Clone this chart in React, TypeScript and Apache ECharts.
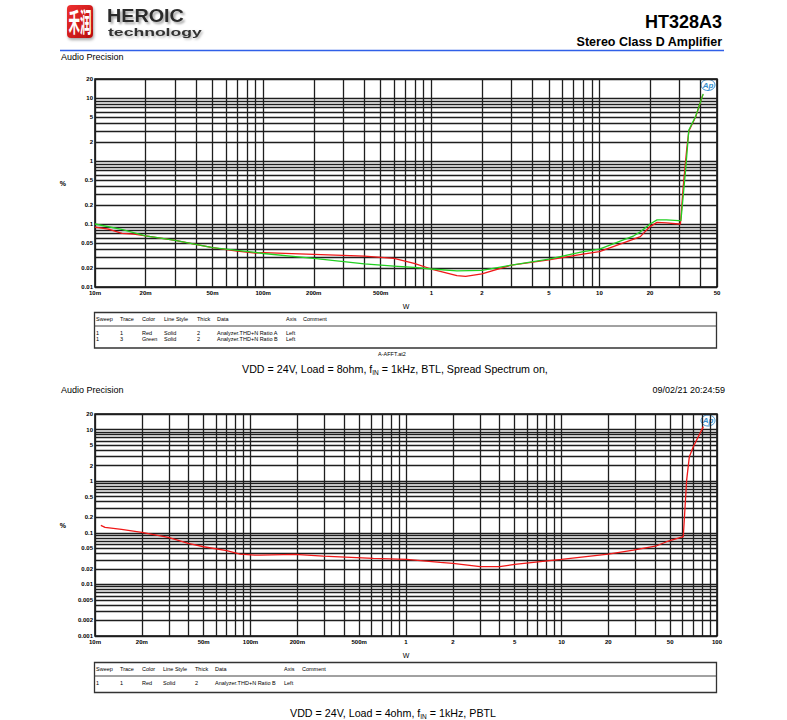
import React, { useEffect, useRef } from 'react';
import * as echarts from 'echarts';

// ---------- data (W, %) ----------
const topRedX = [0.01, 0.012, 0.0145, 0.017, 0.02, 0.03, 0.039, 0.05, 0.07, 0.09, 0.1, 0.2, 0.4, 0.6, 0.79, 1.0, 1.42, 1.6, 2.0, 3.0, 5.0, 8.0, 10, 16, 17.5, 20, 22, 25, 29.6, 30.3, 31.5, 33, 34, 37.3, 41.2];
const topRedY = [0.0895, 0.083, 0.071, 0.069, 0.065, 0.055, 0.048, 0.042, 0.037, 0.0345, 0.035, 0.033, 0.031, 0.0285, 0.0237, 0.0193, 0.0151, 0.0147, 0.0161, 0.0223, 0.027, 0.0333, 0.0363, 0.0577, 0.063, 0.091, 0.106, 0.104, 0.1, 0.1, 0.4, 1.5, 3.0, 5.0, 11.3];

const topGreenX = [0.01, 0.0144, 0.02, 0.03, 0.039, 0.05, 0.07, 0.09, 0.1, 0.2, 0.4, 0.6, 0.79, 1.0, 1.42, 2.0, 3.0, 5.0, 8.0, 10, 16, 17.5, 20, 22, 25, 29.6, 30.5, 32.5, 34, 37.3, 41.4];
const topGreenY = [0.1, 0.082, 0.065, 0.055, 0.048, 0.042, 0.038, 0.0355, 0.034, 0.0285, 0.0232, 0.0215, 0.0205, 0.0193, 0.018, 0.0184, 0.0223, 0.0278, 0.0363, 0.04, 0.065, 0.075, 0.1, 0.116, 0.116, 0.113, 0.113, 0.7, 3.1, 5.05, 11.6];

const botRedX = [0.0109, 0.0116, 0.0148, 0.02, 0.0296, 0.0398, 0.05, 0.0703, 0.0856, 0.1067, 0.115, 0.193, 0.294, 0.616, 1.01, 1.66, 2.0, 3.0, 4.0, 5.0, 10, 20, 29, 40.9, 47.4, 60.7, 63.8, 66.4, 70.4, 81.7];
const botRedY = [0.139, 0.127, 0.116, 0.102, 0.0815, 0.0624, 0.0536, 0.0449, 0.0387, 0.037, 0.037, 0.0383, 0.0354, 0.0319, 0.0305, 0.0267, 0.0255, 0.022, 0.022, 0.0244, 0.0305, 0.0387, 0.046, 0.056, 0.067, 0.0838, 1.05, 2.98, 4.65, 11.4];

// ---------- tick labels ----------
const topXLabels = [0.01, 0.02, 0.05, 0.1, 0.2, 0.5, 1, 2, 5, 10, 20, 50];
const botXLabels = [0.01, 0.02, 0.05, 0.1, 0.2, 0.5, 1, 2, 5, 10, 20, 50, 100];
const topYLabels = [0.01, 0.02, 0.05, 0.1, 0.2, 0.5, 1, 2, 5, 10, 20];
const botYLabels = [0.001, 0.002, 0.005, 0.01, 0.02, 0.05, 0.1, 0.2, 0.5, 1, 2, 5, 10, 20];

// ---------- legend tables ----------
const tableHeader = ['Sweep', 'Trace', 'Color', 'Line Style', 'Thick', 'Data', 'Axis', 'Comment'];
const topRows = [
  ['1', '1', 'Red', 'Solid', '2', 'Analyzer.THD+N Ratio A', 'Left'],
  ['1', '3', 'Green', 'Solid', '2', 'Analyzer.THD+N Ratio B', 'Left'],
];
const botRows = [['1', '1', 'Red', 'Solid', '2', 'Analyzer.THD+N Ratio B', 'Left']];

// grid line values: k * 10^n within [lo, hi]
function gridValues(lo: number, hi: number) {
  const out: number[] = [];
  for (let e = -4; e <= 3; e++) {
    for (let k = 1; k <= 9; k++) {
      const v = +(k * Math.pow(10, e)).toPrecision(6);
      if (v >= lo - 1e-12 && v <= hi + 1e-9) out.push(v);
    }
  }
  return out;
}

const FONT = '"Liberation Sans", Arial, Helvetica, sans-serif';
const xFmt = (v: number) => (v < 1 ? `${Math.round(v * 1000)}m` : `${+(+v).toPrecision(6)}`);
const yFmt = (v: number) => `${+(+v).toPrecision(6)}`;
const GRID_LINE = { color: '#1e1e1e', width: 1.3 };

function makeXAxis(gridIndex: number, max: number, labels: number[]) {
  return {
    type: 'log', logBase: 10, gridIndex, min: 0.01, max,
    name: 'W', nameLocation: 'middle', nameGap: 16,
    nameTextStyle: { fontSize: 7, color: '#000', fontFamily: FONT },
    axisLine: { show: false },
    axisTick: { show: false, customValues: gridValues(0.01, max) },
    axisLabel: { customValues: labels, formatter: xFmt, margin: 3, fontSize: 6, fontWeight: 'bold', color: '#000', fontFamily: FONT },
    splitLine: { show: true, lineStyle: GRID_LINE },
    minorTick: { show: false }, minorSplitLine: { show: false },
  };
}
function makeYAxis(gridIndex: number, min: number, labels: number[]) {
  return {
    type: 'log', logBase: 10, gridIndex, min, max: 20,
    name: '%', nameLocation: 'middle', nameGap: 29, nameRotate: 0,
    nameTextStyle: { fontSize: 7, fontWeight: 'bold', color: '#000', fontFamily: FONT },
    axisLine: { show: false },
    axisTick: { show: false, customValues: gridValues(min, 20) },
    axisLabel: { customValues: labels, formatter: yFmt, margin: 2, fontSize: 6, fontWeight: 'bold', color: '#000', fontFamily: FONT },
    splitLine: { show: true, lineStyle: GRID_LINE },
    minorTick: { show: false }, minorSplitLine: { show: false },
  };
}

function txt(text: string, x: number, y: number, size: number, opts: any = {}) {
  return {
    type: 'text', x, y, silent: true,
    style: {
      text, fontSize: size, fontFamily: FONT, fill: opts.fill || '#000',
      fontWeight: opts.weight || 'normal', align: opts.align || 'left',
      verticalAlign: opts.valign || 'middle',
    },
    ...(opts.extra || {}),
  };
}

function table(top: number, height: number, headerY: number, lineY: number, rowYs: number[], cols: number[], rows: string[][]) {
  const els: any[] = [
    { type: 'rect', shape: { x: 94.5, y: top, width: 622, height }, style: { fill: 'none', stroke: '#333', lineWidth: 1.3 }, silent: true },
    { type: 'line', shape: { x1: 94.5, y1: lineY, x2: 716.5, y2: lineY }, style: { stroke: '#444', lineWidth: 1 }, silent: true },
  ];
  tableHeader.forEach((h, i) => els.push(txt(h, cols[i], headerY, 5.5)));
  rows.forEach((r, ri) => {
    r.forEach((c, ci) => els.push(txt(c, cols[ci], rowYs[ri], 5.5)));
  });
  return els;
}

function apLogo(cx: number, cy: number) {
  return [
    { type: 'ellipse', shape: { cx, cy, rx: 7, ry: 5.5 }, style: { fill: 'none', stroke: '#3a8fd0', lineWidth: 1 }, silent: true },
    {
      type: 'text', x: cx, y: cy, silent: true,
      style: { text: 'Ap', fontSize: 8, fontStyle: 'italic', fontWeight: 'bold', fontFamily: FONT, fill: '#3a8fd0', align: 'center', verticalAlign: 'middle' },
    },
  ];
}

function caption(x: number, y: number, pre: string, post: string) {
  return {
    type: 'text', x, y, silent: true,
    style: {
      text: `{a|${pre}}{s|IN}{a|${post}}`,
      align: 'left', verticalAlign: 'middle',
      rich: {
        a: { fontSize: 10.7, fontFamily: FONT, fill: '#000', lineHeight: 14, verticalAlign: 'bottom' },
        s: { fontSize: 6.5, fontFamily: FONT, fill: '#000', lineHeight: 14, verticalAlign: 'bottom', padding: [0, 0, -2, 0] },
      },
    },
  };
}

export default function App() {
  const ref = useRef<HTMLDivElement>(null);
  useEffect(() => {
    if (!ref.current) return;
    const chart = echarts.init(ref.current, null, { renderer: 'svg' });
    const line = (x: number[], y: number[], color: string, idx: number, name: string) => ({
      type: 'line', name, xAxisIndex: idx, yAxisIndex: idx,
      data: x.map((v, i) => [v, y[i]]),
      showSymbol: false, symbol: 'none', smooth: false,
      lineStyle: { color, width: 1.3 }, itemStyle: { color },
      silent: true,
    });

    const graphic: any[] = [
      // logo
      {
        type: 'rect', shape: { x: 67, y: 5, width: 26, height: 33, r: 4 }, silent: true,
        style: {
          fill: new echarts.graphic.LinearGradient(0, 0, 1, 1, [
            { offset: 0, color: '#ee3030' }, { offset: 1, color: '#b80c0c' },
          ]),
          shadowColor: 'rgba(0,0,0,0.35)', shadowBlur: 3, shadowOffsetX: 1, shadowOffsetY: 2,
        },
      },
      {
        type: 'text', x: 68.5, y: 7, scaleY: 2.3, silent: true,
        style: { text: '禾润', fontSize: 11.5, fontWeight: 'bold', fontFamily: '"Noto Sans CJK SC", sans-serif', fill: '#fff', align: 'left', verticalAlign: 'top' },
      },
      {
        type: 'text', x: 107, y: 15.5, scaleX: 1.04, silent: true,
        style: {
          text: 'HEROIC', fontSize: 19, fontWeight: 'bold', fontFamily: FONT, fill: '#2b2b2b', align: 'left', verticalAlign: 'middle',
          textShadowColor: 'rgba(0,0,0,0.35)', textShadowBlur: 2, textShadowOffsetX: 2, textShadowOffsetY: 2,
        },
      },
      {
        type: 'text', x: 108, y: 32.5, scaleX: 1.6, silent: true,
        style: {
          text: 'technology', fontSize: 11, fontWeight: 'bold', fontFamily: FONT, fill: '#333', align: 'left', verticalAlign: 'middle',
          textShadowColor: 'rgba(0,0,0,0.3)', textShadowBlur: 2, textShadowOffsetX: 1.5, textShadowOffsetY: 1.5,
        },
      },
      txt('HT328A3', 722, 22, 18, { weight: 'bold', align: 'right' }),
      txt('Stereo Class D Amplifier', 722, 41.5, 12.5, { weight: 'bold', align: 'right' }),
      { type: 'line', shape: { x1: 60, y1: 50.5, x2: 724, y2: 50.5 }, style: { stroke: '#3060e8', lineWidth: 1.5 }, silent: true },
      txt('Audio Precision', 61, 56.5, 9),
      ...apLogo(708, 85),
      ...table(312.5, 35.5, 319, 326, [333, 339], [96, 120, 142, 164, 197, 217, 286, 303], topRows),
      txt('A-AFFT.at2', 378, 353.5, 5.5),
      caption(242, 367, 'VDD = 24V, Load = 8ohm, f', ' = 1kHz, BTL, Spread Spectrum on,'),
      txt('Audio Precision', 61, 390, 9),
      txt('09/02/21 20:24:59', 725, 390, 9, { align: 'right' }),
      ...apLogo(708, 420.5),
      ...table(662.5, 30, 669, 676, [683], [96, 120, 142, 163, 195, 215, 284, 302], botRows),
      caption(290, 711, 'VDD = 24V, Load = 4ohm, f', ' = 1kHz, PBTL'),
    ];

    chart.setOption({
      animation: false,
      backgroundColor: '#fff',
      grid: [
        { left: 95, top: 79, width: 622, height: 208, show: true, borderColor: '#000', borderWidth: 1.5, backgroundColor: 'transparent' },
        { left: 95, top: 414, width: 622, height: 222, show: true, borderColor: '#000', borderWidth: 1.5, backgroundColor: 'transparent' },
      ],
      xAxis: [makeXAxis(0, 50, topXLabels), makeXAxis(1, 100, botXLabels)],
      yAxis: [makeYAxis(0, 0.01, topYLabels), makeYAxis(1, 0.001, botYLabels)],
      series: [
        line(topRedX, topRedY, '#f01818', 0, 'Trace 1 Red'),
        line(topGreenX, topGreenY, '#22d022', 0, 'Trace 3 Green'),
        line(botRedX, botRedY, '#f01818', 1, 'Trace 1 Red'),
      ],
      graphic,
    });
    return () => chart.dispose();
  }, []);
  return <div ref={ref} style={{ position: 'absolute', left: 0, top: 0, width: 787, height: 720 }} />;
}
